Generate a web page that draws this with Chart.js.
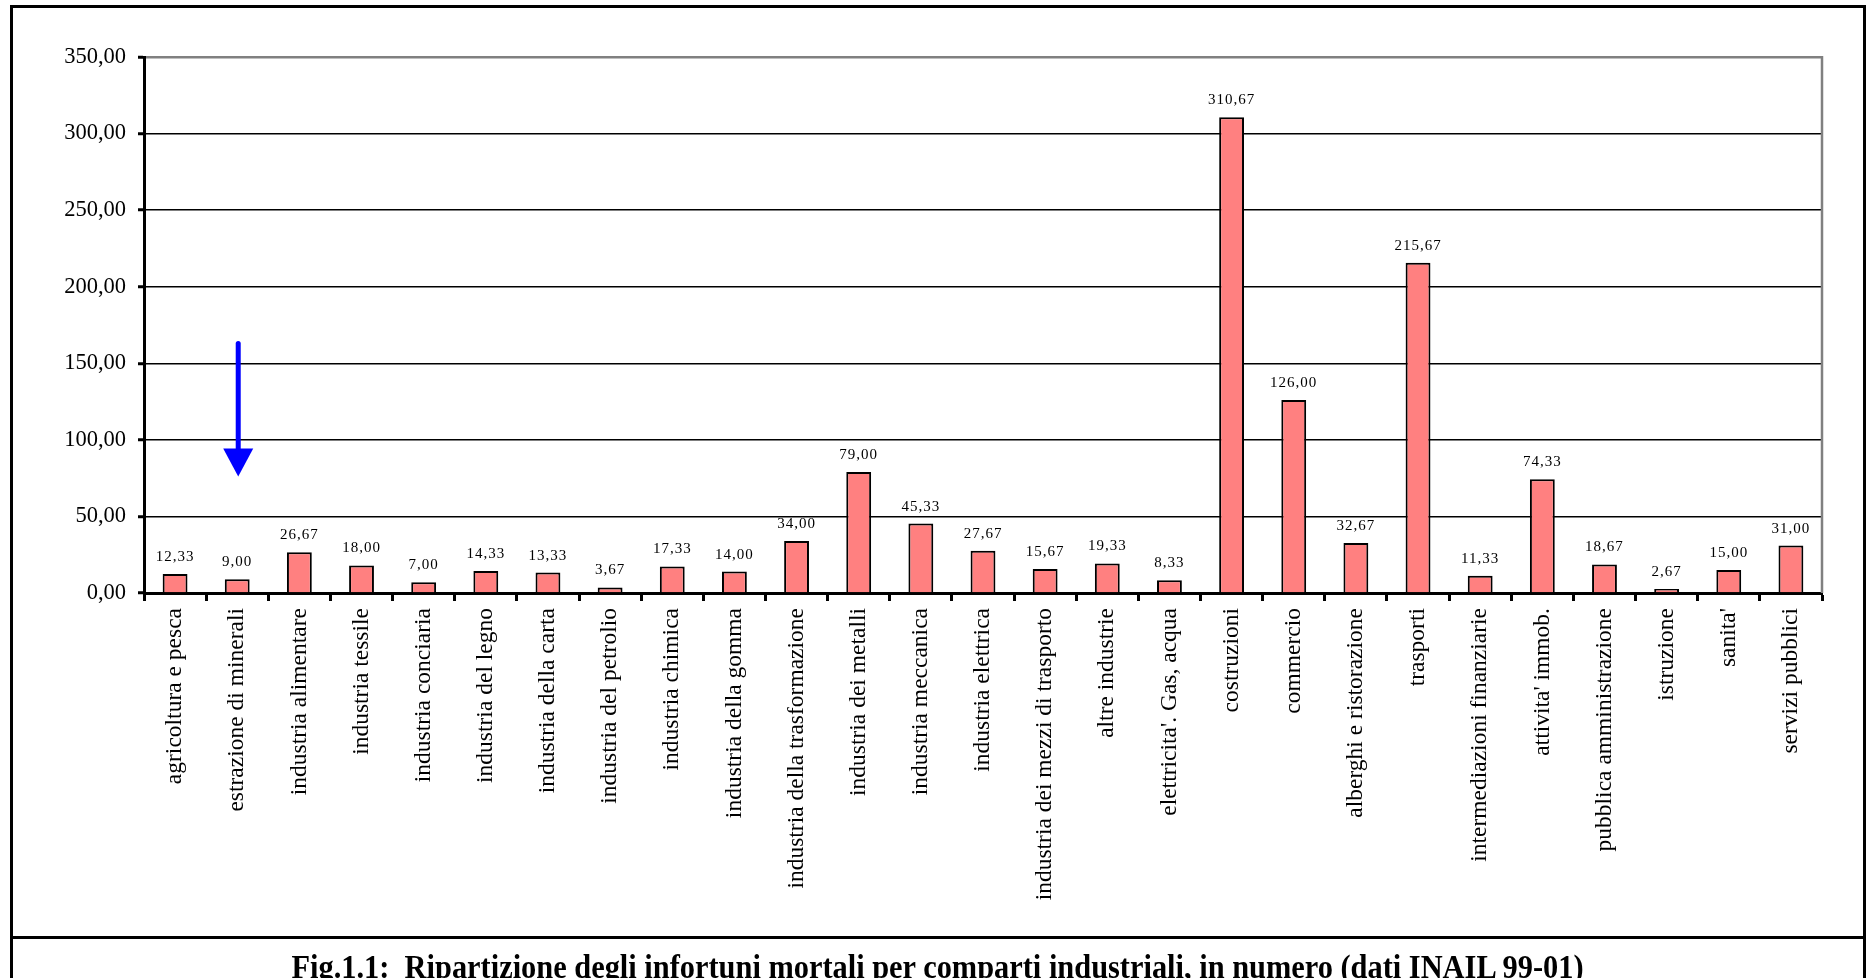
<!DOCTYPE html>
<html lang="it">
<head>
<meta charset="utf-8">
<title>Infortuni mortali per comparti industriali</title>
<script src="https://cdn.jsdelivr.net/npm/chart.js@4.4.1/dist/chart.umd.min.js"></script>
<style>
  html, body { margin: 0; padding: 0; background: #fff; overflow: hidden; }
  #wrap { position: relative; width: 1868px; height: 978px; }
  #grafico { position: absolute; left: 0; top: 0; }
  .cornice {
    position: absolute; left: 10px; top: 5px; width: 1856px; height: 1000px;
    border: 3px solid #000; box-sizing: border-box; pointer-events: none;
  }
  .separatore { position: absolute; left: 10px; top: 936px; width: 1856px; height: 3px; background: #000; }
  .didascalia {
    position: absolute; left: 10px; width: 1856px; top: 949px;
    text-align: center; white-space: pre; line-height: 1;
  }
  .didascalia span {
    display: inline-block; font: bold 33px "Liberation Serif", "Times New Roman", serif;
    transform-origin: center top;
  }
</style>
</head>
<body>
<div id="wrap">
  <canvas id="grafico" width="1868" height="938"></canvas>
  <div class="cornice"></div>
  <div class="separatore"></div>
  <div class="didascalia"><span id="didascalia">Fig.1.1:  Ripartizione degli infortuni mortali per comparti industriali, in numero (dati INAIL 99-01)</span></div>
</div>
<script>
const comparti = [
    "agricoltura e pesca", "estrazione di minerali", "industria alimentare", "industria tessile",
    "industria conciaria", "industria del legno", "industria della carta", "industria del petrolio",
    "industria chimica", "industria della gomma", "industria della trasformazione", "industria dei metalli",
    "industria meccanica", "industria elettrica", "industria dei mezzi di trasporto", "altre industrie",
    "elettricita'. Gas, acqua", "costruzioni", "commercio", "alberghi e ristorazione",
    "trasporti", "intermediazioni finanziarie", "attivita' immob.", "pubblica amministrazione",
    "istruzione", "sanita'", "servizi pubblici"
];

const infortuniMortali = [
    12.33, 9.00, 26.67, 18.00, 7.00, 14.33, 13.33, 3.67, 17.33, 14.00,
    34.00, 79.00, 45.33, 27.67, 15.67, 19.33, 8.33, 310.67, 126.00, 32.67,
    215.67, 11.33, 74.33, 18.67, 2.67, 15.00, 31.00
];

const yMax = 350;
const yStep = 50;

// freccia blu sopra "estrazione di minerali"
const frecciaComparto = "estrazione di minerali";
const frecciaDa = 163;
const frecciaA = 76;

const numIt = v => v.toFixed(2).replace(".", ",");

// etichette dei valori sopra le barre
const etichetteValori = {
    id: "etichetteValori",
    afterDatasetsDraw(chart) {
        const ctx = chart.ctx;
        const meta = chart.getDatasetMeta(0);
        ctx.save();
        ctx.font = "15px 'Liberation Serif'";
        ctx.letterSpacing = "1px";
        ctx.fillStyle = "#000";
        ctx.textAlign = "center";
        ctx.textBaseline = "alphabetic";
        meta.data.forEach((bar, i) => {
            ctx.fillText(numIt(infortuniMortali[i]), bar.x, bar.y - 13);
        });
        ctx.restore();
    }
};

// bordo grigio a destra dell'area del grafico + freccia
const extra = {
    id: "extra",
    beforeDatasetsDraw(chart) {
        const { ctx, chartArea } = chart;
        ctx.save();
        ctx.strokeStyle = "#808080";
        ctx.lineWidth = 2.5;
        ctx.beginPath();
        ctx.moveTo(chartArea.right, chartArea.top - 1);
        ctx.lineTo(chartArea.right, chartArea.bottom);
        ctx.stroke();
        ctx.restore();
    },
    afterDraw(chart) {
        const { ctx, scales } = chart;
        const x = scales.x.getPixelForValue(comparti.indexOf(frecciaComparto)) + 1;
        const y0 = scales.y.getPixelForValue(frecciaDa);
        const y1 = scales.y.getPixelForValue(frecciaA);
        const punta = 28;
        ctx.save();
        ctx.strokeStyle = "#0000ff";
        ctx.fillStyle = "#0000ff";
        ctx.lineWidth = 5;
        ctx.lineCap = "round";
        ctx.beginPath();
        ctx.moveTo(x, y0);
        ctx.lineTo(x, y1 - punta + 2);
        ctx.stroke();
        ctx.beginPath();
        ctx.moveTo(x - 15, y1 - punta);
        ctx.lineTo(x + 15, y1 - punta);
        ctx.lineTo(x, y1);
        ctx.closePath();
        ctx.fill();
        ctx.restore();
    }
};

Chart.defaults.font.family = "'Liberation Serif', 'Times New Roman', serif";
Chart.defaults.color = "#000";

new Chart(document.getElementById("grafico"), {
    type: "bar",
    data: {
        labels: comparti,
        datasets: [{
            data: infortuniMortali,
            backgroundColor: "#ff8080",
            borderColor: "#000",
            borderWidth: 2,
            categoryPercentage: 1,
            barPercentage: 0.4
        }]
    },
    options: {
        responsive: false,
        devicePixelRatio: 1,
        animation: false,
        layout: { padding: { top: 57, right: 46, left: 0, bottom: 0 } },
        plugins: {
            legend: { display: false },
            tooltip: { enabled: false }
        },
        scales: {
            x: {
                offset: true,
                grid: {
                    offset: true,
                    drawOnChartArea: false,
                    tickLength: 8,
                    tickWidth: 3,
                    tickColor: "#000"
                },
                border: { color: "#000", width: 3 },
                ticks: {
                    autoSkip: false,
                    maxRotation: 90,
                    minRotation: 90,
                    padding: 7,
                    font: { size: 23.5 }
                },
                afterFit(scale) { scale.height = 345; }
            },
            y: {
                min: 0,
                max: yMax,
                ticks: {
                    stepSize: yStep,
                    padding: 12,
                    font: { size: 22.5 },
                    callback: v => numIt(v)
                },
                grid: {
                    color: ctx => (ctx.tick && ctx.tick.value === yMax) ? "#808080" : "#000",
                    lineWidth: ctx => (ctx.tick && ctx.tick.value === yMax) ? 2.5 : 1.5,
                    tickLength: 6,
                    tickWidth: 3,
                    tickColor: "#000"
                },
                border: { color: "#000", width: 3 },
                afterFit(scale) { scale.width = 144; }
            }
        }
    },
    plugins: [etichetteValori, extra]
});

// didascalia: larghezza fissa come nella figura
const cap = document.getElementById("didascalia");
cap.style.transform = `scaleX(${1292 / cap.offsetWidth})`;
</script>
</body>
</html>
